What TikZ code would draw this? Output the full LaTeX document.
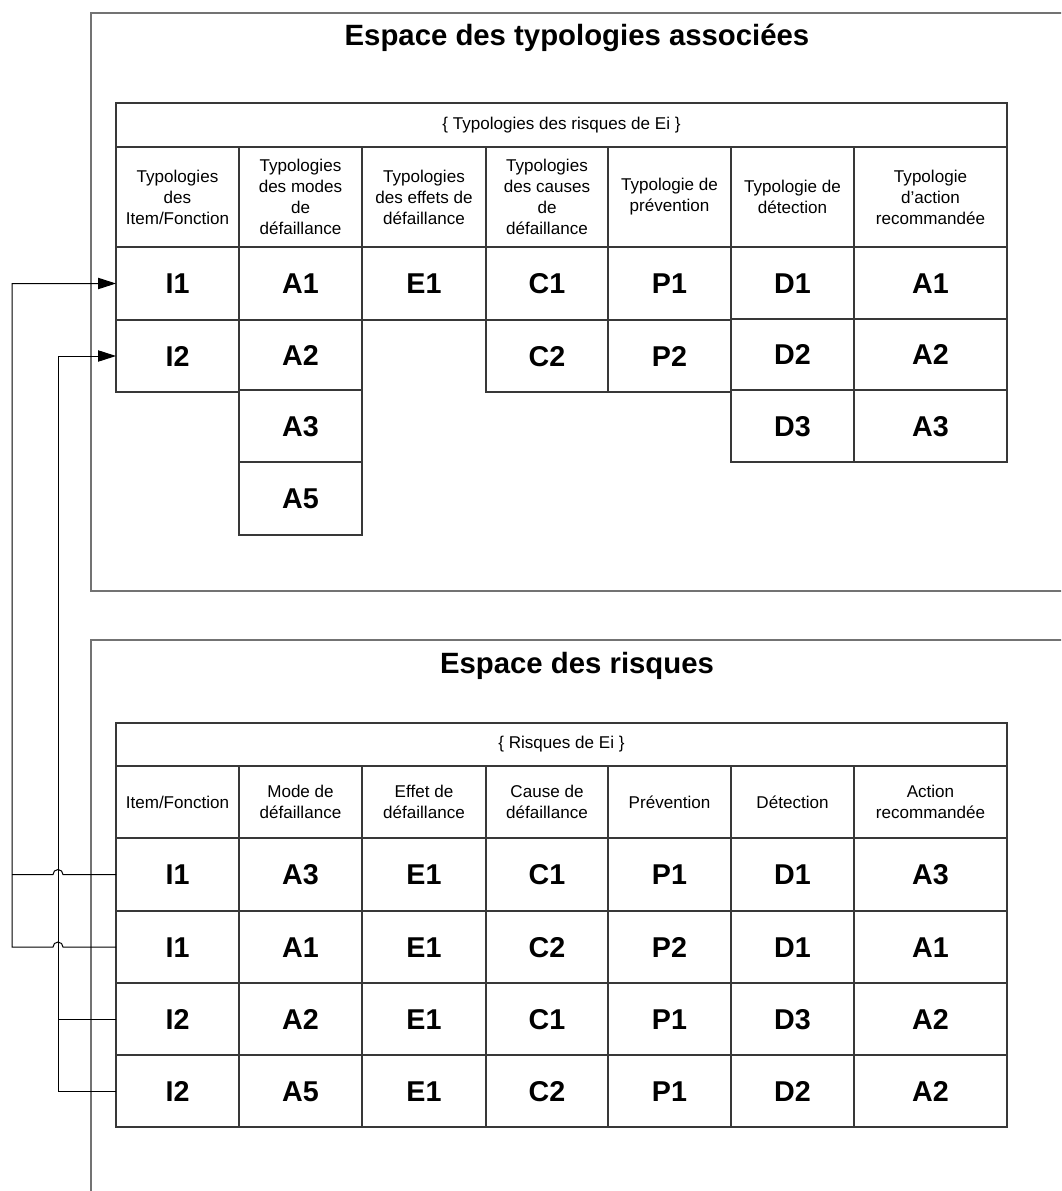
\documentclass[tikz,border=0pt]{standalone}
\usepackage{fontspec}
\setmainfont{Liberation Sans}
\usetikzlibrary{arrows.meta,calc}
\tikzset{
  tcell/.style={draw=black!78, line width=0.9pt, inner sep=0pt, outer sep=0pt, align=center,
                font=\fontsize{12.8}{15.8}\selectfont},
  dcell/.style={tcell, font=\fontsize{21.5}{24}\selectfont\bfseries, text height=15.5pt, text depth=0pt},
  spacebox/.style={draw=black!55, line width=1.2pt, inner sep=0pt, outer sep=0pt},
  spacetitle/.style={font=\fontsize{22}{26}\selectfont\bfseries, anchor=base, inner sep=0pt},
  conn/.style={draw=black, line width=0.75pt},
  tip/.style={-{Triangle[length=13.5pt,width=8.5pt]}},
}
\newcommand\cellat[7]{%
  \pgfmathsetmacro\cw{(#5-#3)*0.75}%
  \pgfmathsetmacro\ch{(#6-#4)*0.75}%
  \node[#1, minimum width=\cw pt, minimum height=\ch pt] (#2) at ({(#3+#5)/2},{(#4+#6)/2}) {#7};}
\begin{document}
\begin{tikzpicture}[x=0.75pt,y=-0.75pt]
\useasboundingbox (0,0) rectangle (1061,1191);
\clip (0,0) rectangle (1061,1191);

% ---------- outer spaces ----------
\cellat{spacebox}{box1}{91}{13}{1066}{591}{}
\cellat{spacebox}{box2}{91}{640}{1066}{1205}{}
\node[spacetitle] (title1) at (577,46) {Espace des typologies associées};
\node[spacetitle] (title2) at (577,673) {Espace des risques};

% ---------- top table ----------
\cellat{tcell}{tcap}{116}{103}{1007}{147}{\{ Typologies des risques de Ei \}}
\cellat{tcell}{th1}{116}{147}{239}{247}{Typologies\\des\\Item/Fonction}
\cellat{tcell}{th2}{239}{147}{362}{247}{Typologies\\des modes\\de\\défaillance}
\cellat{tcell}{th3}{362}{147}{486}{247}{Typologies\\des effets de\\défaillance}
\cellat{tcell}{th4}{486}{147}{608}{247}{Typologies\\des causes\\de\\défaillance}
\cellat{tcell}{th5}{608}{147}{731}{247}{Typologie de\\prévention}
\cellat{tcell}{th6}{731}{147}{854}{247}{Typologie de\\détection}
\cellat{tcell}{th7}{854}{147}{1007}{247}{Typologie\\d’action\\recommandée}

\cellat{dcell}{tI1}{116}{247}{239}{320}{I1}
\cellat{dcell}{tI2}{116}{320}{239}{392}{I2}
\cellat{dcell}{tA1}{239}{247}{362}{320}{A1}
\cellat{dcell}{tA2}{239}{320}{362}{390}{A2}
\cellat{dcell}{tA3}{239}{390}{362}{462}{A3}
\cellat{dcell}{tA5}{239}{462}{362}{535}{A5}
\cellat{dcell}{tE1}{362}{247}{486}{320}{E1}
\cellat{dcell}{tC1}{486}{247}{608}{320}{C1}
\cellat{dcell}{tC2}{486}{320}{608}{392}{C2}
\cellat{dcell}{tP1}{608}{247}{731}{320}{P1}
\cellat{dcell}{tP2}{608}{320}{731}{392}{P2}
\cellat{dcell}{tD1}{731}{247}{854}{319}{D1}
\cellat{dcell}{tD2}{731}{319}{854}{390}{D2}
\cellat{dcell}{tD3}{731}{390}{854}{462}{D3}
\cellat{dcell}{tR1}{854}{247}{1007}{319}{A1}
\cellat{dcell}{tR2}{854}{319}{1007}{390}{A2}
\cellat{dcell}{tR3}{854}{390}{1007}{462}{A3}

% ---------- bottom table ----------
\cellat{tcell}{bcap}{116}{723}{1007}{766}{\{ Risques de Ei \}}
\cellat{tcell}{bh1}{116}{766}{239}{838}{Item/Fonction}
\cellat{tcell}{bh2}{239}{766}{362}{838}{Mode de\\défaillance}
\cellat{tcell}{bh3}{362}{766}{486}{838}{Effet de\\défaillance}
\cellat{tcell}{bh4}{486}{766}{608}{838}{Cause de\\défaillance}
\cellat{tcell}{bh5}{608}{766}{731}{838}{Prévention}
\cellat{tcell}{bh6}{731}{766}{854}{838}{Détection}
\cellat{tcell}{bh7}{854}{766}{1007}{838}{Action\\recommandée}

% row 1
\cellat{dcell}{bI1a}{116}{838}{239}{911}{I1}
\cellat{dcell}{b12}{239}{838}{362}{911}{A3}
\cellat{dcell}{b13}{362}{838}{486}{911}{E1}
\cellat{dcell}{b14}{486}{838}{608}{911}{C1}
\cellat{dcell}{b15}{608}{838}{731}{911}{P1}
\cellat{dcell}{b16}{731}{838}{854}{911}{D1}
\cellat{dcell}{b17}{854}{838}{1007}{911}{A3}
% row 2
\cellat{dcell}{bI1b}{116}{911}{239}{983}{I1}
\cellat{dcell}{b22}{239}{911}{362}{983}{A1}
\cellat{dcell}{b23}{362}{911}{486}{983}{E1}
\cellat{dcell}{b24}{486}{911}{608}{983}{C2}
\cellat{dcell}{b25}{608}{911}{731}{983}{P2}
\cellat{dcell}{b26}{731}{911}{854}{983}{D1}
\cellat{dcell}{b27}{854}{911}{1007}{983}{A1}
% row 3
\cellat{dcell}{bI2a}{116}{983}{239}{1055}{I2}
\cellat{dcell}{b32}{239}{983}{362}{1055}{A2}
\cellat{dcell}{b33}{362}{983}{486}{1055}{E1}
\cellat{dcell}{b34}{486}{983}{608}{1055}{C1}
\cellat{dcell}{b35}{608}{983}{731}{1055}{P1}
\cellat{dcell}{b36}{731}{983}{854}{1055}{D3}
\cellat{dcell}{b37}{854}{983}{1007}{1055}{A2}
% row 4
\cellat{dcell}{bI2b}{116}{1055}{239}{1127}{I2}
\cellat{dcell}{b42}{239}{1055}{362}{1127}{A5}
\cellat{dcell}{b43}{362}{1055}{486}{1127}{E1}
\cellat{dcell}{b44}{486}{1055}{608}{1127}{C2}
\cellat{dcell}{b45}{608}{1055}{731}{1127}{P1}
\cellat{dcell}{b46}{731}{1055}{854}{1127}{D2}
\cellat{dcell}{b47}{854}{1055}{1007}{1127}{A2}

% ---------- connectors ----------
\coordinate (xA) at (12,0);
\coordinate (xB) at (58,0);

\draw[conn] (bI1a.west) -- ($(xB |- bI1a.west)+(5,0)$)
   arc[start angle=0,end angle=180,radius=3.75pt] -- (xA |- bI1a.west);
\draw[conn,tip] (bI1b.west) -- ($(xB |- bI1b.west)+(5,0)$)
   arc[start angle=0,end angle=180,radius=3.75pt] -- (xA |- bI1b.west)
   -- (xA |- tI1.west) -- (tI1.west);

\draw[conn] (bI2a.west) -- (xB |- bI2a.west);
\draw[conn,tip] (bI2b.west) -- (xB |- bI2b.west) -- (xB |- tI2.west) -- (tI2.west);
\end{tikzpicture}
\end{document}
